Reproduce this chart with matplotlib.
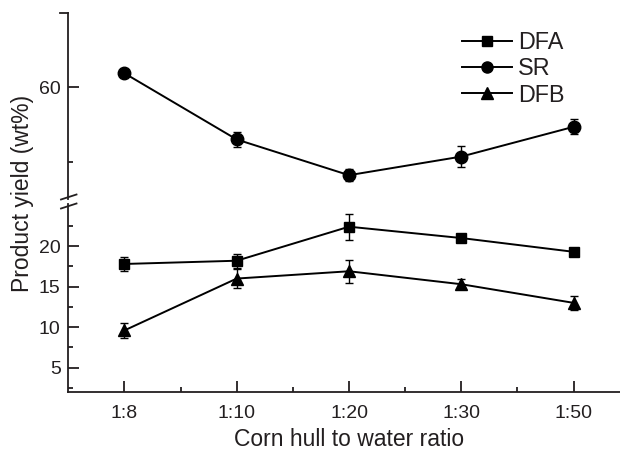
import matplotlib
matplotlib.use("Agg")
import matplotlib.pyplot as plt
from matplotlib.ticker import FixedLocator

plt.rcParams['font.family'] = ['Liberation Sans', 'DejaVu Sans']

categories = ["1:8", "1:10", "1:20", "1:30", "1:50"]
dfa = [17.8, 18.2, 22.4, 21.0, 19.3]
dfa_err = [0.9, 0.85, 1.6, 0.5, 0.5]
sr = [61.9, 53.0, 48.2, 50.7, 54.7]
sr_err = [0.4, 1.0, 0.8, 1.4, 1.0]
dfb = [9.6, 16.0, 16.9, 15.3, 13.0]
dfb_err = [0.9, 1.2, 1.4, 0.6, 0.9]

ink = "#231f20"
x = list(range(len(categories)))

fig = plt.figure(figsize=(6.2, 4.5), dpi=100)
W, H = 620, 450
left = 68.3 / W
right = 629.7 / W
ax_top = fig.add_axes([left, 1 - 199 / H, right - left, (199 - 13) / H])
ax_bot = fig.add_axes([left, 1 - 392 / H, right - left, (392 - 204) / H])

lw = 1.3
kw = dict(color="black", lw=1.4, capsize=2.8, elinewidth=1.0, capthick=1.0)
ax_bot.errorbar(x, dfa, yerr=dfa_err, marker="s", ms=7.5, **kw)
ax_top.errorbar(x, sr, yerr=sr_err, marker="o", ms=9, **kw)
ax_bot.errorbar(x, dfb, yerr=dfb_err, marker="^", ms=9, **kw)

for ax in (ax_top, ax_bot):
    ax.set_xlim(-0.5, 4.5)
    for s in ("top", "right"):
        ax.spines[s].set_visible(False)
    ax.spines["left"].set_linewidth(lw)
    ax.spines["left"].set_color(ink)
    ax.tick_params(axis="y", which="major", direction="in", length=8, width=lw,
                   labelsize=14, colors=ink, pad=5.5)
    ax.tick_params(axis="y", which="minor", direction="in", length=3.5, width=lw, colors=ink)

ax_top.spines["bottom"].set_visible(False)
ax_top.set_xticks([])
ax_top.set_ylim(45, 70)
ax_top.yaxis.set_major_locator(FixedLocator([60]))
ax_top.yaxis.set_minor_locator(FixedLocator([50]))

ax_bot.spines["bottom"].set_linewidth(lw)
ax_bot.spines["bottom"].set_color(ink)
ax_bot.set_ylim(2, 25.2)
ax_bot.yaxis.set_major_locator(FixedLocator([5, 10, 15, 20]))
ax_bot.yaxis.set_minor_locator(FixedLocator([2.5, 7.5, 12.5, 17.5, 22.5]))
ax_bot.set_xticks(x)
ax_bot.set_xticklabels(categories)
ax_bot.xaxis.set_minor_locator(FixedLocator([0.5, 1.5, 2.5, 3.5]))
ax_bot.tick_params(axis="x", which="major", direction="in", length=8, width=lw,
                   labelsize=14, colors=ink, pad=9)
ax_bot.tick_params(axis="x", which="minor", direction="in", length=3.5, width=lw, colors=ink)
ax_bot.set_xlabel("Corn hull to water ratio", fontsize=16.5, color=ink, labelpad=5)

# top end cap of the y axis
ax_top.plot([-8 / (right - left) / W, 0], [1, 1], transform=ax_top.transAxes,
            color=ink, lw=lw, clip_on=False)

# axis break marks
for yp in (197, 206):
    yf = 1 - yp / H
    fig.add_artist(plt.Line2D([61 / W, 76.5 / W], [yf - 2.5 / H, yf + 2.5 / H],
                              color=ink, lw=1.3, transform=fig.transFigure))

fig.text(23 / W, 1 - 193 / H, "Product yield (wt%)", rotation=90, fontsize=16.5,
         color=ink, ha="center", va="center")

handles = [
    plt.Line2D([], [], color="black", lw=1.4, marker="s", ms=7),
    plt.Line2D([], [], color="black", lw=1.4, marker="o", ms=8),
    plt.Line2D([], [], color="black", lw=1.4, marker="^", ms=8),
]
fig.legend(handles, ["DFA", "SR", "DFB"], loc="upper left",
           bbox_to_anchor=(462 / W, 1 - 31 / H), frameon=False, fontsize=16.8,
           handlelength=2.14, handletextpad=0.26, labelspacing=0.14, borderpad=0,
           borderaxespad=0, labelcolor=ink)

fig.savefig("out.png", dpi=100)
